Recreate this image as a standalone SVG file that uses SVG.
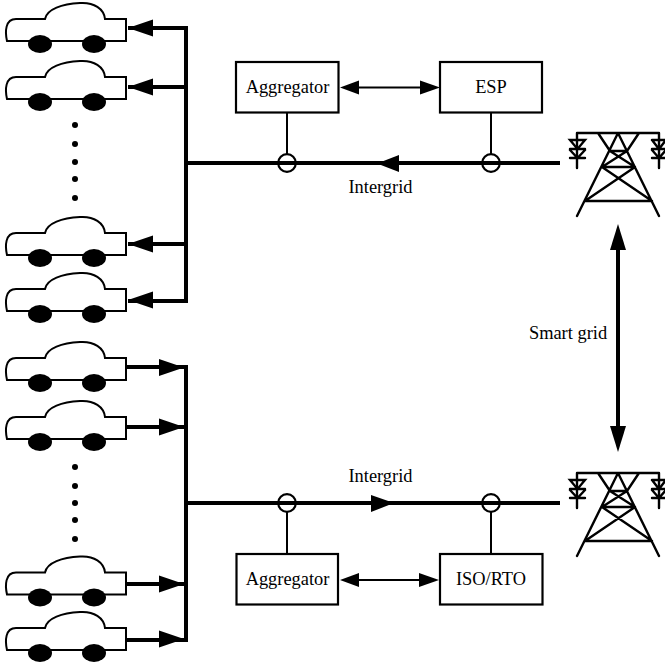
<svg xmlns="http://www.w3.org/2000/svg" width="665" height="666" viewBox="0 0 665 666">
<style>
text{font-family:"Liberation Serif","Times New Roman",serif;font-size:18.4px;fill:#000;text-anchor:middle}
.b{fill:#fff;stroke:#000;stroke-width:2.2}
.t{stroke:#000;stroke-width:2.4;fill:none;stroke-linecap:round}
.th{stroke:#000;stroke-width:4;fill:none}
.m{stroke:#000;stroke-width:2;fill:none}
.c{fill:none;stroke:#000;stroke-width:2.2}
</style>
<defs>
<g id="car">
<path d="M126 19V41H7C5 32 5 19 16 19H45C47 9 62 4 80 3C94 2 104 9 105 19Z" fill="#fff" stroke="#000" stroke-width="2"/>
<ellipse cx="40" cy="44" rx="12" ry="9"/>
<ellipse cx="94" cy="44" rx="12" ry="9"/>
</g>
<g id="tower">
<path class="t" d="M577 133H659M577 133V168M659 133V168M618 133L577 216M618 133L659 216M598 133L610 151M639 133L627 151M610 151H627M602 167H635M585 201H652M602 167L652 201M635 167L585 201M610 151L635 167M627 151L602 167"/>
<path class="t" d="M570 140H585L577.5 149ZM570 149H585M570 150L577.5 158L585 150M570 158H585M652 140H666M652 140L659 149L666 140M652 149H666M652 150L659 158L666 150M652 158H666"/>
</g>
<polygon id="al" points="0,0 25,-8.5 25,8.5"/>
<polygon id="ar" points="0,0 -25,-8.5 -25,8.5"/>
</defs>
<g id="connectors">
<path class="th" d="M186 26V301H128M128 28H186M128 87H186M128 244H186"/>
<path class="th" d="M186 365V642M125 367H186M125 427H186M125 584H186M125 640H186"/>
<path class="th" d="M186 163H560M186 503H560"/>
<use href="#al" x="128" y="28"/>
<use href="#al" x="128" y="87"/>
<use href="#al" x="128" y="244"/>
<use href="#al" x="128" y="300"/>
<use href="#ar" x="184" y="367.5"/>
<use href="#ar" x="184" y="427"/>
<use href="#ar" x="184" y="584"/>
<use href="#ar" x="184" y="639"/>
<polygon points="377,163.5 399,155 399,172"/>
<polygon points="394,503 371,495 371,512"/>
<path class="m" d="M287 112V154M491 112V154M287 512V554M491 512V554"/>
<path class="m" d="M350 87.500H430M350 580H430"/>
<polygon points="340,87.500 359,80.500 359,94.500"/><polygon points="440,87.500 420,80.500 420,94.500"/>
<polygon points="340,580 359,573 359,587"/><polygon points="439,580 419,573 419,587"/>
<circle class="c" cx="287" cy="163" r="8.8"/><circle class="c" cx="491" cy="163" r="8.8"/>
<circle class="c" cx="287" cy="503" r="8.8"/><circle class="c" cx="491" cy="503" r="8.8"/>
<path d="M618 240V436" stroke="#000" stroke-width="4"/>
<polygon points="618,224 610,250 626,250"/><polygon points="618,452 610,426 626,426"/>
</g>
<g id="car1"><use href="#car"/></g>
<g id="car2"><use href="#car" y="58"/></g>
<g id="car3"><use href="#car" y="214"/></g>
<g id="car4"><use href="#car" y="270"/></g>
<g id="car5"><use href="#car" y="339"/></g>
<g id="car6"><use href="#car" y="398"/></g>
<g id="car7"><use href="#car" y="553.5"/></g>
<g id="car8"><use href="#car" y="609"/></g>
<g id="dots1"><circle cx="75" cy="125" r="3"/><circle cx="75" cy="144" r="3"/><circle cx="75" cy="162" r="3"/><circle cx="75" cy="179" r="3"/><circle cx="75" cy="198" r="3"/></g>
<g id="dots2"><circle cx="75" cy="467" r="3"/><circle cx="75" cy="486" r="3"/><circle cx="75" cy="503" r="3"/><circle cx="75" cy="520" r="3"/><circle cx="75" cy="539" r="3"/></g>
<g id="tower1"><use href="#tower"/></g>
<g id="tower2"><use href="#tower" y="340"/></g>
<g id="agg1"><rect class="b" x="236" y="62" width="102.500" height="50.500"/><text x="287.500" y="92.500">Aggregator</text></g>
<g id="esp"><rect class="b" x="440" y="62" width="102" height="50.500"/><text x="491" y="92.500">ESP</text></g>
<g id="agg2"><rect class="b" x="236.500" y="554" width="101.500" height="50.500"/><text x="287.500" y="585">Aggregator</text></g>
<g id="iso"><rect class="b" x="440" y="554" width="102.500" height="50.500"/><text x="491" y="585">ISO/RTO</text></g>
<g id="labels">
<text x="380.500" y="193">Intergrid</text>
<text x="380.500" y="482">Intergrid</text>
<text x="568" y="339">Smart grid</text>
</g>
</svg>
